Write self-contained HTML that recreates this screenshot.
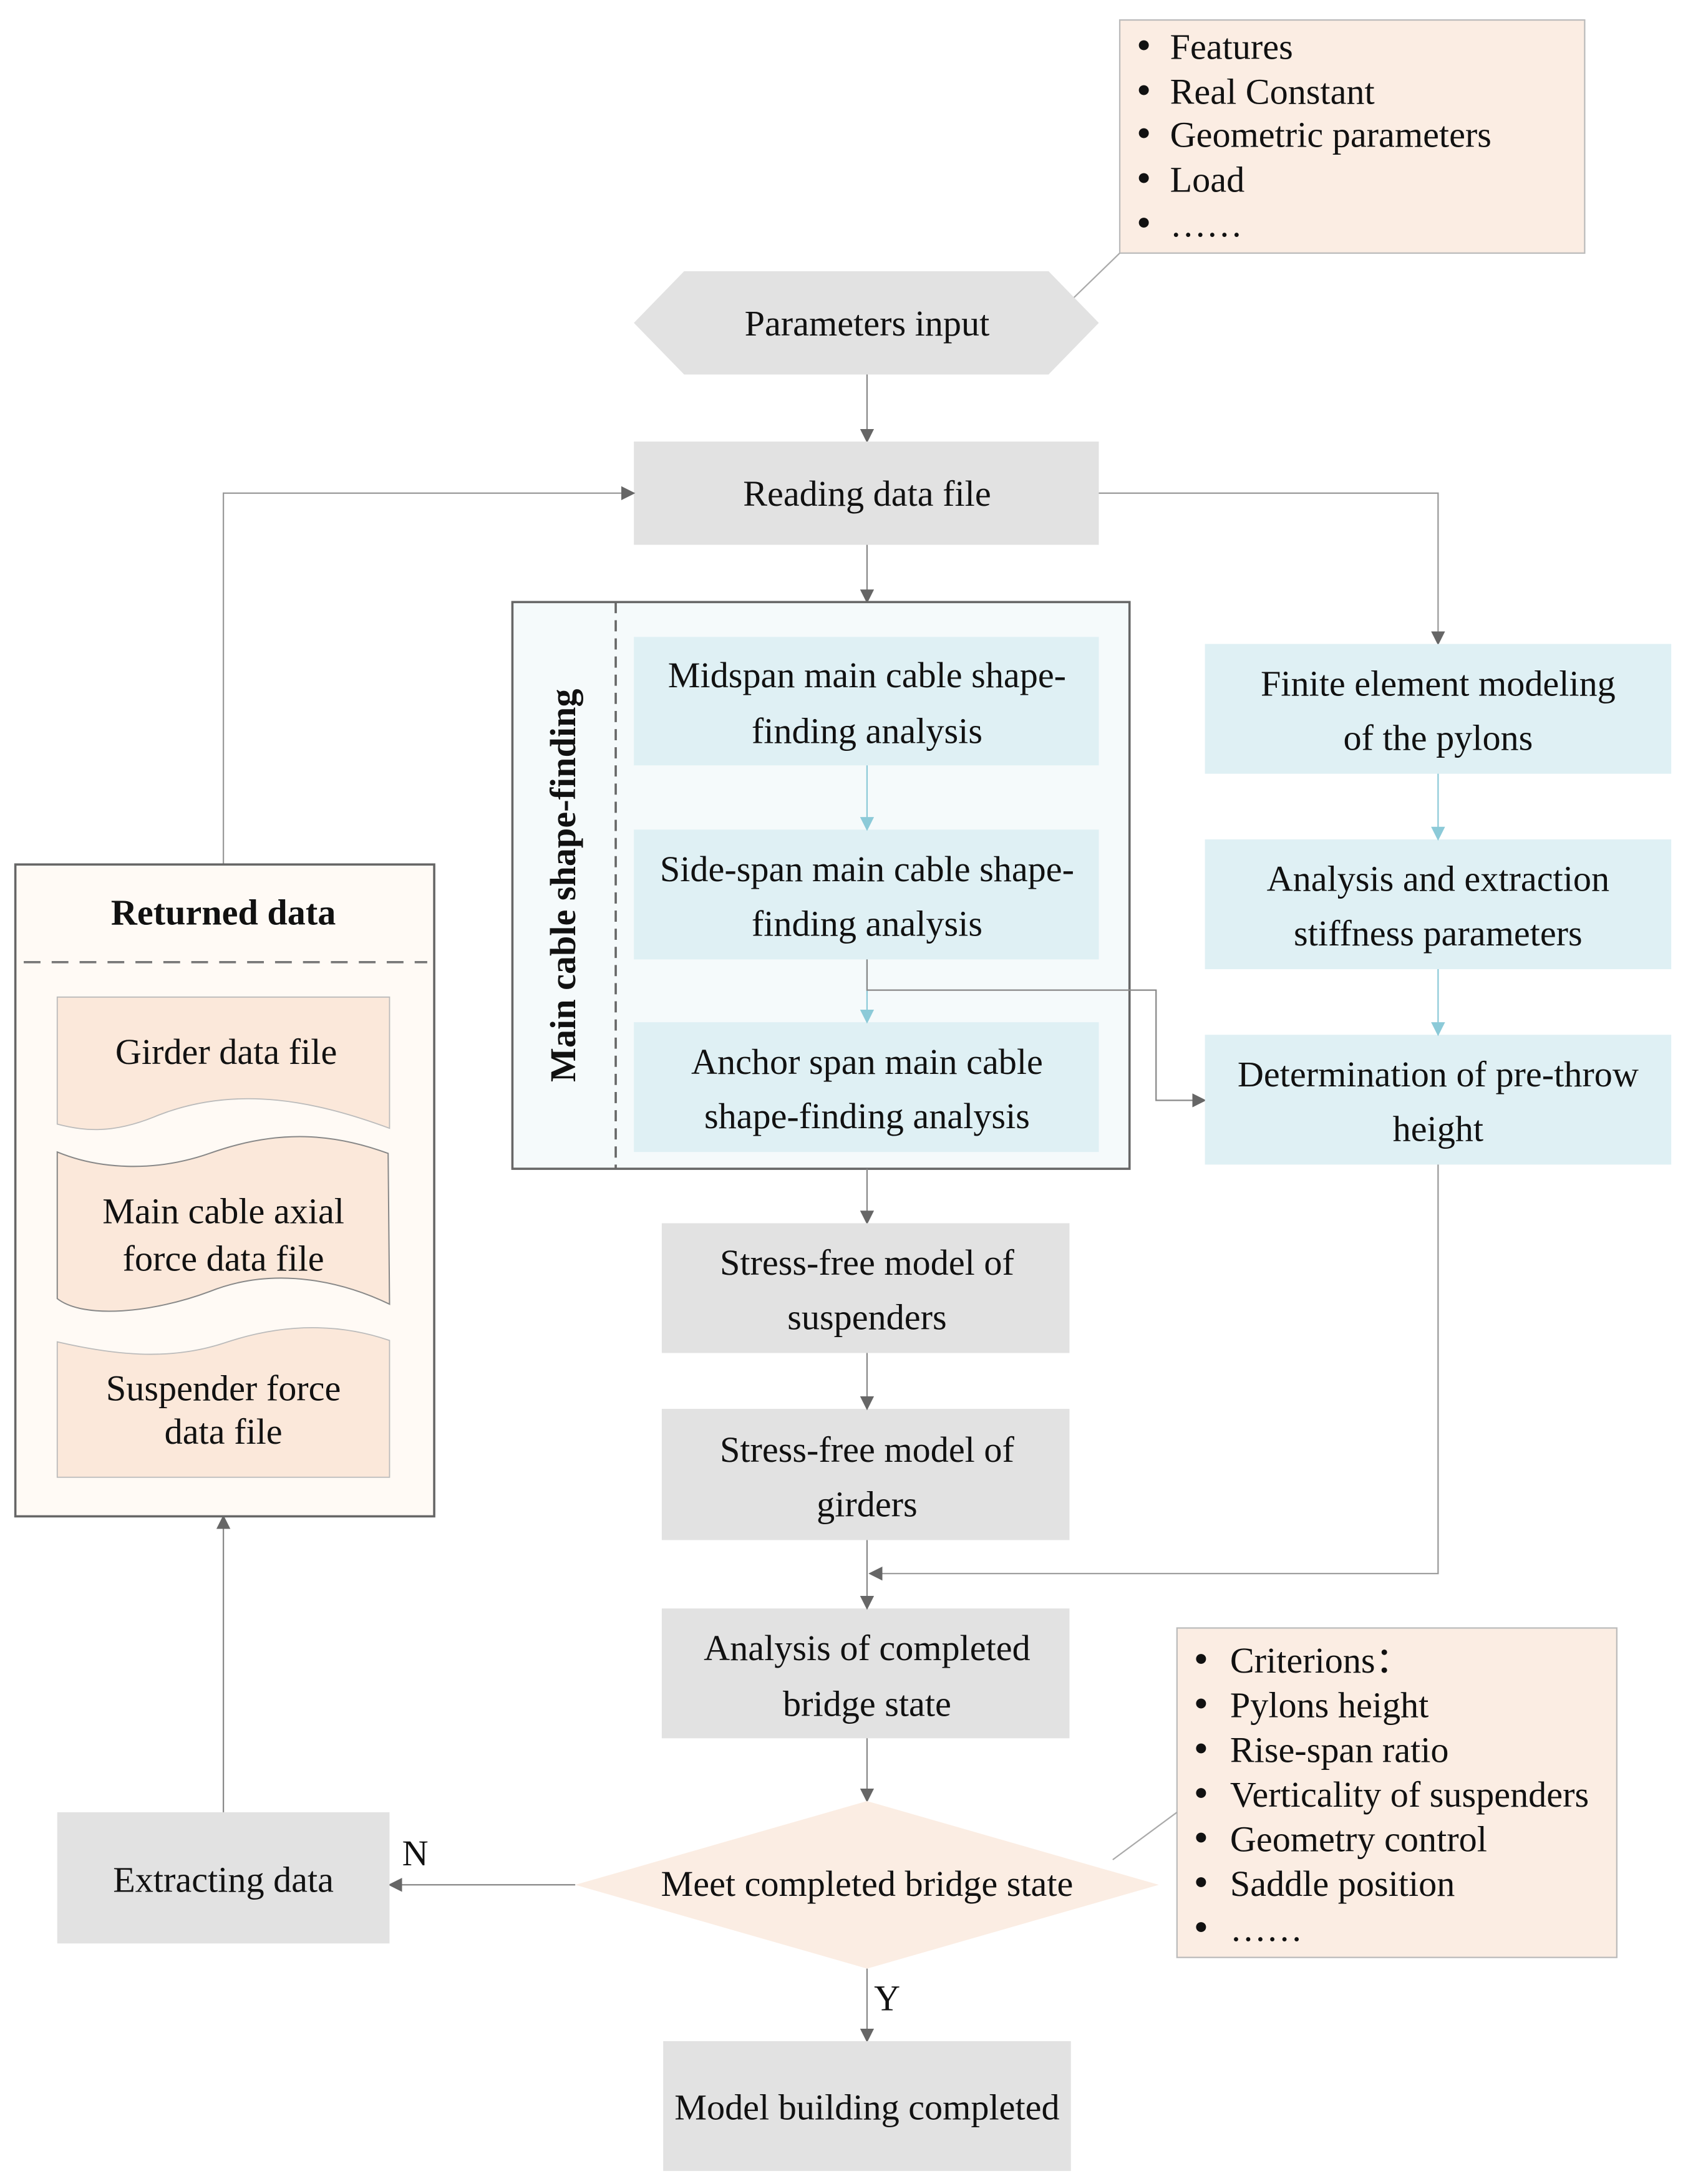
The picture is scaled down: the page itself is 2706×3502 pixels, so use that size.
<!DOCTYPE html>
<html><head><meta charset="utf-8"><style>
html,body{margin:0;padding:0;background:#fff;}
svg{display:block;}
text{font-family:"Liberation Serif",serif;fill:#111;}
</style></head><body>
<svg width="2706" height="3502" viewBox="0 0 1209 1564" xmlns="http://www.w3.org/2000/svg">
<defs>
<marker id="ag" markerWidth="10" markerHeight="10" refX="9" refY="5" orient="auto" markerUnits="userSpaceOnUse"><path d="M0,0 L10,5 L0,10 Z" fill="#666"/></marker>
<marker id="ab" markerWidth="10" markerHeight="10" refX="9" refY="5" orient="auto" markerUnits="userSpaceOnUse"><path d="M0,0 L10,5 L0,10 Z" fill="#8ccad8"/></marker>
</defs>
<rect width="1209" height="1564" fill="#fff"/>

<rect x="802" y="14" width="333" height="167" fill="#fbede3" stroke="#bbb" stroke-width="1"/>
<g font-size="26">
<text x="814" y="42" font-size="30">•</text><text x="838" y="42">Features</text>
<text x="814" y="74" font-size="30">•</text><text x="838" y="74">Real Constant</text>
<text x="814" y="105" font-size="30">•</text><text x="838" y="105">Geometric parameters</text>
<text x="814" y="137" font-size="30">•</text><text x="838" y="137">Load</text>
<text x="814" y="169" font-size="30">•</text><text x="838" y="169">……</text>
</g>
<line x1="802" y1="181" x2="768" y2="214" stroke="#aaa" stroke-width="1"/>

<polygon points="454,231 490,194 751,194 787,231 751,268 490,268" fill="#e2e2e2"/>
<text x="621" y="240" font-size="26" text-anchor="middle">Parameters input</text>
<line x1="621" y1="268" x2="621" y2="316" stroke="#888" marker-end="url(#ag)"/>

<rect x="454" y="316" width="333" height="74" fill="#e2e2e2"/>
<text x="621" y="362" font-size="26" text-anchor="middle">Reading data file</text>
<line x1="621" y1="390" x2="621" y2="431" stroke="#888" marker-end="url(#ag)"/>

<rect x="367" y="431" width="442" height="406" fill="#f5fafb" stroke="#666" stroke-width="1.6"/>
<line x1="441" y1="431" x2="441" y2="837" stroke="#666" stroke-width="1.6" stroke-dasharray="8,5"/>
<text transform="translate(412,634) rotate(-90)" font-size="26" font-weight="bold" text-anchor="middle">Main cable shape-finding</text>

<g font-size="26" text-anchor="middle">
<rect x="454" y="456" width="333" height="92" fill="#dff0f4"/>
<text x="621" y="492">Midspan main cable shape-</text><text x="621" y="532">finding analysis</text>
<rect x="454" y="594" width="333" height="93" fill="#dff0f4"/>
<text x="621" y="631">Side-span main cable shape-</text><text x="621" y="670">finding analysis</text>
<rect x="454" y="732" width="333" height="93" fill="#dff0f4"/>
<text x="621" y="769">Anchor span main cable</text><text x="621" y="808">shape-finding analysis</text>
</g>
<line x1="621" y1="548" x2="621" y2="594" stroke="#8ccad8" marker-end="url(#ab)"/>
<line x1="621" y1="687" x2="621" y2="732" stroke="#8ccad8" marker-end="url(#ab)"/>
<polyline points="621,687 621,709 828,709 828,788 863,788" fill="none" stroke="#888" marker-end="url(#ag)"/>

<polyline points="787,353 1030,353 1030,461" fill="none" stroke="#999" marker-end="url(#ag)"/>
<g font-size="26" text-anchor="middle">
<rect x="863" y="461" width="334" height="93" fill="#dff0f4"/>
<text x="1030" y="498">Finite element modeling</text><text x="1030" y="537">of the pylons</text>
<rect x="863" y="601" width="334" height="93" fill="#dff0f4"/>
<text x="1030" y="638">Analysis and extraction</text><text x="1030" y="677">stiffness parameters</text>
<rect x="863" y="741" width="334" height="93" fill="#dff0f4"/>
<text x="1030" y="778">Determination of pre-throw</text><text x="1030" y="817">height</text>
</g>
<line x1="1030" y1="554" x2="1030" y2="601" stroke="#8ccad8" marker-end="url(#ab)"/>
<line x1="1030" y1="694" x2="1030" y2="741" stroke="#8ccad8" marker-end="url(#ab)"/>
<polyline points="1030,834 1030,1127 623,1127" fill="none" stroke="#999" marker-end="url(#ag)"/>

<line x1="621" y1="837" x2="621" y2="876" stroke="#888" marker-end="url(#ag)"/>
<g font-size="26" text-anchor="middle">
<rect x="474" y="876" width="292" height="93" fill="#e2e2e2"/>
<text x="621" y="913">Stress-free model of</text><text x="621" y="952">suspenders</text>
<rect x="474" y="1009" width="292" height="94" fill="#e2e2e2"/>
<text x="621" y="1047">Stress-free model of</text><text x="621" y="1086">girders</text>
<rect x="474" y="1152" width="292" height="93" fill="#e2e2e2"/>
<text x="621" y="1189">Analysis of completed</text><text x="621" y="1229">bridge state</text>
</g>
<line x1="621" y1="969" x2="621" y2="1009" stroke="#888" marker-end="url(#ag)"/>
<line x1="621" y1="1103" x2="621" y2="1152" stroke="#888" marker-end="url(#ag)"/>
<line x1="621" y1="1245" x2="621" y2="1290" stroke="#888" marker-end="url(#ag)"/>

<polygon points="412,1350 621,1290 830,1350 621,1410" fill="#fbede3"/>
<text x="621" y="1358" font-size="26" text-anchor="middle">Meet completed bridge state</text>
<line x1="621" y1="1410" x2="621" y2="1462" stroke="#888" marker-end="url(#ag)"/>
<text x="626" y="1440" font-size="26">Y</text>
<rect x="475" y="1462" width="292" height="93" fill="#e2e2e2"/>
<text x="621" y="1518" font-size="26" text-anchor="middle">Model building completed</text>

<line x1="412" y1="1350" x2="279" y2="1350" stroke="#888" marker-end="url(#ag)"/>
<text x="288" y="1336" font-size="26">N</text>
<rect x="41" y="1298" width="238" height="94" fill="#e2e2e2"/>
<text x="160" y="1355" font-size="26" text-anchor="middle">Extracting data</text>
<line x1="160" y1="1298" x2="160" y2="1086" stroke="#888" marker-end="url(#ag)"/>

<rect x="843" y="1166" width="315" height="236" fill="#fbede3" stroke="#bbb" stroke-width="1"/>
<g font-size="26">
<text x="855" y="1198" font-size="30">•</text><text x="881" y="1198">Criterions：</text>
<text x="855" y="1230" font-size="30">•</text><text x="881" y="1230">Pylons height</text>
<text x="855" y="1262" font-size="30">•</text><text x="881" y="1262">Rise-span ratio</text>
<text x="855" y="1294" font-size="30">•</text><text x="881" y="1294">Verticality of suspenders</text>
<text x="855" y="1326" font-size="30">•</text><text x="881" y="1326">Geometry control</text>
<text x="855" y="1358" font-size="30">•</text><text x="881" y="1358">Saddle position</text>
<text x="855" y="1390" font-size="30">•</text><text x="881" y="1390">……</text>
</g>
<line x1="797" y1="1332" x2="843" y2="1298" stroke="#aaa" stroke-width="1"/>

<polyline points="160,619 160,353 454,353" fill="none" stroke="#999" marker-end="url(#ag)"/>
<rect x="11" y="619" width="300" height="467" fill="#fffaf5" stroke="#666" stroke-width="1.6"/>
<text x="160" y="662" font-size="26" font-weight="bold" text-anchor="middle">Returned data</text>
<line x1="17" y1="689" x2="306" y2="689" stroke="#777" stroke-width="1.6" stroke-dasharray="12,8"/>
<path d="M41,714 L279,714 L279,808 C230,790 170,775 110,800 C80,812 60,810 41,805 Z" fill="#fbe8da" stroke="#bbb" stroke-width="0.8"/>
<text x="162" y="762" font-size="26" text-anchor="middle">Girder data file</text>
<path d="M41,825 C70,837 110,840 150,826 C200,808 240,812 278,826 L279,934 C250,920 200,905 150,925 C110,940 60,945 41,930 Z" fill="#fbe8da" stroke="#888" stroke-width="0.9"/>
<text x="160" y="876" font-size="26" text-anchor="middle">Main cable axial</text>
<text x="160" y="910" font-size="26" text-anchor="middle">force data file</text>
<path d="M41,961 C80,970 120,975 160,962 C210,945 250,950 279,960 L279,1058 L41,1058 Z" fill="#fbe8da" stroke="#bbb" stroke-width="0.8"/>
<text x="160" y="1003" font-size="26" text-anchor="middle">Suspender force</text>
<text x="160" y="1034" font-size="26" text-anchor="middle">data file</text>
</svg>
</body></html>
